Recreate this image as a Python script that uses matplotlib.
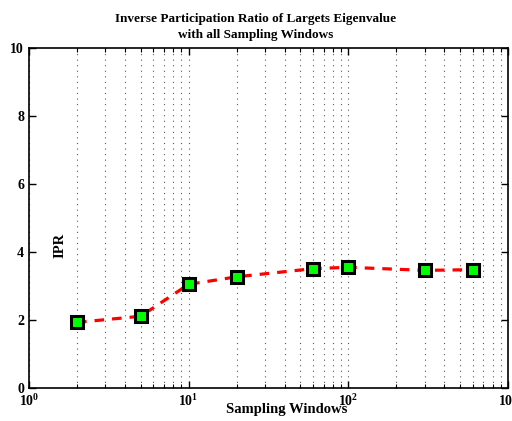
import numpy as np
import matplotlib.pyplot as plt
from matplotlib.ticker import LogLocator, FixedLocator

# data
windows = [2, 5, 10, 20, 60, 100, 300, 600]
ipr = [1.93, 2.11, 3.05, 3.27, 3.51, 3.55, 3.46, 3.48]

title = 'Inverse Participation Ratio of Largets Eigenvalue\nwith all Sampling Windows'
y_ticks = [0, 2, 4, 6, 8, 10]

plt.rcParams['font.family'] = ['Liberation Serif', 'DejaVu Serif']
plt.rcParams['font.weight'] = 'bold'
plt.rcParams['mathtext.fontset'] = 'custom'
plt.rcParams['mathtext.rm'] = 'Liberation Serif:bold'
plt.rcParams['mathtext.default'] = 'rm'

fig = plt.figure(figsize=(5.12, 4.21), dpi=100)
ax = fig.add_axes([29 / 512, 33 / 421, 479 / 512, 340 / 421])

ax.plot(windows, ipr, linestyle='--', color='red', linewidth=2.3, dashes=(3, 2.5),
        marker='s', markersize=8.5, markerfacecolor='#00ff00',
        markeredgecolor='black', markeredgewidth=2.2, zorder=3)

ax.set_xscale('log')
ax.set_xlim(1, 1000)
ax.set_ylim(0, 10)
ax.set_yticks(y_ticks)
ax.set_yticklabels([str(v) for v in y_ticks])
ax.xaxis.set_major_locator(FixedLocator([1, 10, 100, 1000]))
ax.set_xticklabels(['$10^{0}$', '$10^{1}$', '$10^{2}$', '$10^{3}$'])
ax.xaxis.set_minor_locator(LogLocator(base=10, subs=np.arange(2, 10)))

ax.xaxis.grid(True, which='both', linestyle=(0, (1, 4)), color='0.35', linewidth=0.8)
ax.tick_params(which='both', direction='in', top=True, right=True, labelsize=10)
ax.tick_params(which='major', length=5, width=1)
ax.tick_params(which='minor', length=3, width=0.8)
for s in ax.spines.values():
    s.set_linewidth(1.2)

fig.text(0.5, 1 - 27 / 421, title, fontsize=9.5, fontweight='bold',
         ha='center', va='center', linespacing=1.35)
ax.set_xlabel('Sampling Windows', fontsize=10.5, fontweight='bold')
ax.xaxis.set_label_coords(0.538, -0.045)
ax.text(0.065, 0.42, 'IPR', transform=ax.transAxes, rotation=90,
        fontsize=10.5, fontweight='bold', ha='center', va='center')

fig.savefig('out.png', dpi=100)
